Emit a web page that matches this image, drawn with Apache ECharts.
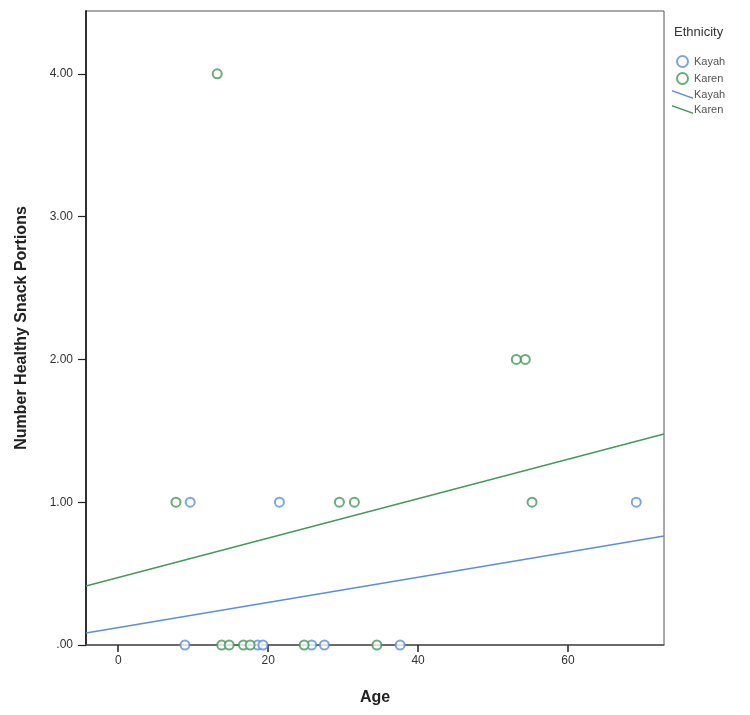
<!DOCTYPE html>
<html>
<head>
<meta charset="utf-8">
<script src="https://cdn.jsdelivr.net/npm/echarts@6/dist/echarts.min.js"></script>
<style>html,body{margin:0;padding:0;background:#fff}#c{width:750px;height:715px}</style>
</head>
<body>
<div id="c"></div>
<script>
// Data
const kayahAges = [8.9, 18.6, 19.3, 25.8, 27.5, 37.6, 9.6, 21.5, 69.1];
const kayahVals = [0, 0, 0, 0, 0, 0, 1, 1, 1];
const karenAges = [13.8, 14.8, 16.7, 17.6, 24.8, 34.5, 7.7, 29.5, 31.5, 55.2, 53.1, 54.3, 13.2];
const karenVals = [0, 0, 0, 0, 0, 0, 1, 1, 1, 1, 2, 2, 4];
// Fit line end points (age, value)
const kayahFitAges = [-4.3, 72.8];
const kayahFitVals = [0.084, 0.763];
const karenFitAges = [-4.3, 72.8];
const karenFitVals = [0.413, 1.477];
const xTicks = [0, 20, 40, 60];
const yTicks = [0, 1, 2, 3, 4];

const BLUE = '#5b8ee0';
const GREEN = '#45995a';
const zip = (a, b) => a.map((v, i) => [v, b[i]]);

const chart = echarts.init(document.getElementById('c'));
chart.setOption({
  animation: false,
  backgroundColor: '#fff',
  textStyle: { fontFamily: 'Liberation Sans, Arial, sans-serif' },
  title: {
    text: 'Ethnicity', left: 669, top: 21,
    textStyle: { fontSize: 13, fontWeight: 'normal', color: '#333', fontFamily: 'Liberation Sans, Arial, sans-serif' }
  },
  legend: {
    orient: 'vertical', left: 667, top: 50, itemGap: 4,
    itemWidth: 21, itemHeight: 11,
    textStyle: { fontSize: 11, color: '#555', padding: [0, 0, 0, -4] },
    formatter: n => n.replace(' fit', ''),
    data: [
      { name: 'Kayah', icon: 'emptyCircle' },
      { name: 'Karen', icon: 'emptyCircle' },
      { name: 'Kayah fit', icon: 'path://M0,0L20,7L20,8.4L0,1.4Z' },
      { name: 'Karen fit', icon: 'path://M0,0L20,7L20,8.4L0,1.4Z' }
    ]
  },
  grid: {
    left: 86, right: 86, top: 11, bottom: 70,
    show: true, borderColor: '#555', borderWidth: 1, backgroundColor: '#fff'
  },
  xAxis: {
    type: 'value', min: -4.3, max: 72.8,
    name: 'Age', nameLocation: 'middle', nameGap: 45,
    nameTextStyle: { fontSize: 16, fontWeight: 'bold', color: '#222' },
    axisLine: { show: true, onZero: false, lineStyle: { color: '#555', width: 1.5 } },
    axisTick: { show: true, customValues: xTicks, length: 7, inside: false, lineStyle: { color: '#222', width: 1.5 } },
    axisLabel: { customValues: xTicks, fontSize: 12, color: '#333', margin: 10 },
    splitLine: { show: false }
  },
  yAxis: {
    type: 'value', min: 0, max: 4.44,
    name: 'Number Healthy Snack Portions', nameLocation: 'middle', nameGap: 56,
    nameTextStyle: { fontSize: 16, fontWeight: 'bold', color: '#222' },
    axisLine: { show: true, onZero: false, lineStyle: { color: '#222', width: 1.8 } },
    axisTick: { show: true, customValues: yTicks, length: 8, lineStyle: { color: '#222', width: 1.2 } },
    axisLabel: {
      customValues: yTicks, fontSize: 12, color: '#333', margin: 13,
      formatter: v => v === 0 ? '.00' : v.toFixed(2)
    },
    splitLine: { show: false }
  },
  series: [
    {
      name: 'Kayah', type: 'scatter', symbol: 'emptyCircle', symbolSize: 9,
      itemStyle: { color: BLUE, borderColor: BLUE, borderWidth: 1.3 },
      data: zip(kayahAges, kayahVals), z: 3
    },
    {
      name: 'Karen', type: 'scatter', symbol: 'emptyCircle', symbolSize: 9,
      itemStyle: { color: GREEN, borderColor: GREEN, borderWidth: 1.3 },
      data: zip(karenAges, karenVals), z: 3
    },
    {
      name: 'Kayah fit', type: 'line', showSymbol: false, symbol: 'none',
      itemStyle: { color: BLUE }, lineStyle: { color: BLUE, width: 1.5 },
      data: zip(kayahFitAges, kayahFitVals), z: 2
    },
    {
      name: 'Karen fit', type: 'line', showSymbol: false, symbol: 'none',
      itemStyle: { color: GREEN }, lineStyle: { color: GREEN, width: 1.5 },
      data: zip(karenFitAges, karenFitVals), z: 2
    }
  ]
});
</script>
</body>
</html>
